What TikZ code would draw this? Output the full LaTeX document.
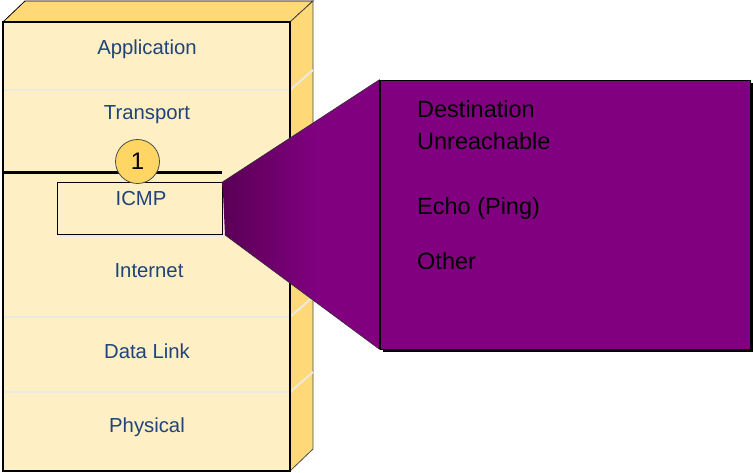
\documentclass[tikz,border=0pt]{standalone}
\usepackage{fontspec}
\setmainfont{Liberation Sans}
\definecolor{frontc}{RGB}{255,239,196}
\definecolor{sidec}{RGB}{255,216,120}
\definecolor{sepc}{RGB}{236,234,224}
\definecolor{labc}{RGB}{31,68,122}
\definecolor{pp}{RGB}{128,0,128}
\definecolor{dp}{RGB}{90,0,85}
\definecolor{circc}{RGB}{255,214,100}
\pgfdeclarehorizontalshading{funnelshade}{100bp}{color(0bp)=(dp); color(25bp)=(dp); color(55bp)=(pp); color(100bp)=(pp)}
\tikzset{
  layerlab/.style={text=labc, font=\fontsize{20.3}{24}\selectfont, inner sep=0pt},
  itemlab/.style={text=black, font=\fontsize{23.5}{28}\selectfont, inner sep=0pt, anchor=base west},
  sepline/.style={draw=sepc, line width=2pt},
}
\begin{document}
\begin{tikzpicture}[x=1pt,y=-1pt]
\useasboundingbox (0,0) rectangle (753,473);
% top face
\filldraw[fill=sidec, draw=black, line width=0.8pt] (3,22) -- (25,1) -- (313,1) -- (290,22) -- cycle;
% side face
\filldraw[fill=sidec, draw=black!70, line width=0.8pt] (290,22) -- (313,1) -- (313,449) -- (290,471) -- cycle;
% front face
\fill[frontc] (3,22) rectangle (290,471);
% separators
\draw[sepline] (3,90) -- (290,90) -- (313,70);
\draw[sepline] (3,317) -- (290,317) -- (313,297);
\draw[sepline] (3,392) -- (290,392) -- (313,372);
% front outline
\draw[black, line width=2.2pt] (3,22) rectangle (290,471);
% transport/internet border
\draw[black, line width=3pt] (3,173) -- (222,173);
% ICMP box
\fill[sepc] (60,185) rectangle (225,237);
\node[draw=black, fill=frontc, line width=0.8pt, minimum width=165pt, minimum height=52pt, inner sep=0pt] (icmp) at (139.5,208) {};
\node[layerlab, anchor=base] (icmplab) at (141,206) {ICMP};
% circle
\node[circle, draw=black!70, fill=circc, line width=0.8pt, minimum size=44pt, inner sep=0pt, font=\fontsize{24}{28}\selectfont] (one) at (137.5,161.5) {1};
% layer labels
\node[layerlab, anchor=base] (app) at (147,55) {Application};
\node[layerlab, anchor=base] (tra) at (147,120) {Transport};
\node[layerlab, anchor=base] (inet) at (149,278) {Internet};
\node[layerlab, anchor=base] (dl) at (147,359) {Data Link};
\node[layerlab, anchor=base] (phy) at (147,432) {Physical};
% purple box with shadow
\fill[black] (383,83) rectangle (753,352);
\node[draw=black, fill=pp, line width=0.8pt, minimum width=370pt, minimum height=269pt, inner sep=0pt] (menu) at (565,214.5) {};
% funnel
\coordinate (f1) at (222.5,182);
\coordinate (f2) at (225,235);
\shade[shading=funnelshade] (f1) -- (menu.north west) -- (menu.south west) -- (f2) -- cycle;
\draw[black!80, line width=0.6pt] (f1) -- (menu.north west);
\draw[black!80, line width=0.6pt] (f2) -- (menu.south west);
\draw[black, line width=0.8pt] (menu.north west) -- (menu.south west);
% items
\node[itemlab] (d1) at (417,118) {Destination};
\node[itemlab] (d2) at (417,150) {Unreachable};
\node[itemlab] (echo) at (417,215) {Echo (Ping)};
\node[itemlab] (oth) at (417,270) {Other};
\end{tikzpicture}
\end{document}
